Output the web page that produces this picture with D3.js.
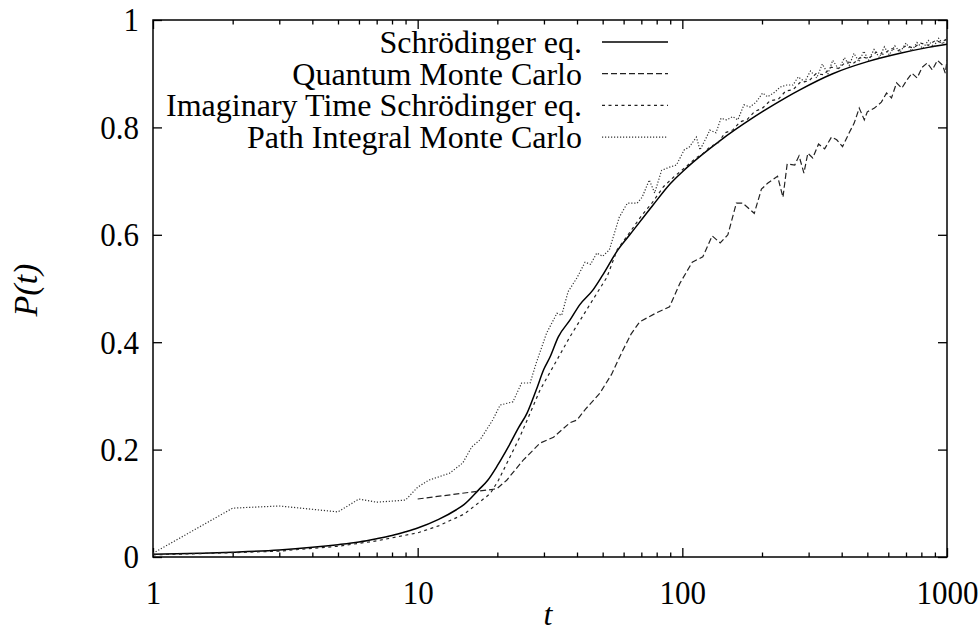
<!DOCTYPE html>
<html>
<head>
<meta charset="utf-8">
<script src="https://cdn.jsdelivr.net/npm/d3@7"></script>
<style>
  body { margin: 0; background: #fff; }
  svg text { font-family: "Liberation Serif", "Times New Roman", Times, "Nimbus Roman", "DejaVu Serif", serif; fill: #000; }
  .tall { transform-box: fill-box; transform-origin: center; transform: scaleY(1.1); }
  .axis path { display: none; }
  .axis line { stroke: #000; stroke-width: 1.3; }
</style>
</head>
<body>
<div class="content"></div>
<script>
(function() {

  // Data: [t, P(t)]
  var schrodinger = [
    [1, 0.005], [1.5, 0.007], [2, 0.009], [3, 0.013], [4, 0.018], [5, 0.023],
    [6, 0.028], [7, 0.034], [8, 0.040], [9, 0.047], [10, 0.054], [12, 0.07],
    [14, 0.088], [15, 0.098], [17, 0.125], [18.4, 0.143], [20, 0.17], [22, 0.205],
    [24, 0.24], [25.9, 0.268], [28, 0.31], [30, 0.35], [31.6, 0.372], [34, 0.41],
    [37.6, 0.441], [41, 0.47], [45.9, 0.497], [50, 0.525], [57.1, 0.572], [63.3, 0.6],
    [77.4, 0.655], [90, 0.695], [104, 0.725], [138.6, 0.775], [185, 0.818], [249, 0.857],
    [278, 0.87], [370, 0.9], [497, 0.922], [665, 0.938], [850, 0.949], [1000, 0.955]
  ];

  var quantumMC = [
    [10, 0.108], [19.9, 0.127], [21.7, 0.143], [25, 0.18], [29, 0.212], [32.6, 0.223],
    [37.6, 0.25], [40, 0.255], [43, 0.275], [48.8, 0.305], [54, 0.34], [59.6, 0.385],
    [64, 0.415], [69, 0.438], [80, 0.455], [89.5, 0.466], [98, 0.51], [109, 0.549],
    [119.5, 0.559], [129.6, 0.598], [139, 0.585], [148.6, 0.6], [160, 0.659], [169, 0.659],
    [187, 0.64], [199, 0.685], [210, 0.696], [229, 0.709], [240, 0.67], [249, 0.732],
    [266, 0.73], [276, 0.747], [288, 0.715], [298, 0.752], [311, 0.743], [327, 0.769],
    [345, 0.76], [366, 0.782], [383, 0.777], [403, 0.764], [427, 0.79], [446, 0.808],
    [466, 0.836], [487, 0.814], [500, 0.829], [532, 0.836], [565, 0.847], [591, 0.864],
    [617, 0.855], [645, 0.883], [675, 0.873], [705, 0.888], [737, 0.901], [771, 0.892],
    [806, 0.912], [842, 0.92], [880, 0.907], [920, 0.925], [962, 0.916], [985, 0.901],
    [1000, 0.925]
  ];

  var imaginaryTime = [
    [1, 0.004], [2, 0.008], [3, 0.011], [5, 0.02], [7, 0.03], [10, 0.045], [12, 0.058],
    [15, 0.08], [18.8, 0.118], [20.2, 0.143], [24.3, 0.223], [29, 0.311], [33.6, 0.367],
    [37.6, 0.41], [45.9, 0.479], [51.9, 0.521], [56.7, 0.572], [63, 0.603], [70, 0.635],
    [77, 0.66], [85, 0.69], [93, 0.708], [104, 0.728], [112, 0.742], [120, 0.752],
    [128, 0.765], [136, 0.77], [145, 0.79], [155, 0.795], [165, 0.81], [176, 0.815],
    [188, 0.83], [200, 0.835], [215, 0.85], [230, 0.852], [246, 0.868], [262, 0.87],
    [280, 0.885], [300, 0.886], [320, 0.9], [342, 0.898], [365, 0.912], [390, 0.91],
    [415, 0.922], [445, 0.92], [475, 0.932], [505, 0.928], [540, 0.94], [575, 0.936],
    [615, 0.947], [655, 0.943], [700, 0.952], [745, 0.948], [795, 0.957], [850, 0.953],
    [905, 0.962], [950, 0.958], [1000, 0.965]
  ];

  var pathIntegralMC = [
    [1, 0.007], [2, 0.091], [3, 0.095], [5, 0.084], [6, 0.108], [7, 0.102], [9, 0.106],
    [10, 0.13], [11, 0.143], [13.2, 0.156], [14.8, 0.175], [16, 0.205], [17.2, 0.218],
    [19.2, 0.255], [20.5, 0.283], [22.9, 0.289], [24.7, 0.324], [26.6, 0.324], [28, 0.36],
    [30.7, 0.417], [33.6, 0.454], [35, 0.45], [37, 0.494], [40, 0.52], [42.9, 0.549],
    [45, 0.545], [47.5, 0.566], [50, 0.56], [53, 0.572], [57.8, 0.633], [62, 0.659],
    [67.5, 0.659], [70.5, 0.67], [75, 0.702], [78.6, 0.678], [83.5, 0.72], [89.5, 0.726],
    [95, 0.73], [101.6, 0.758], [106.5, 0.764], [113, 0.782], [116.6, 0.758], [123.5, 0.782],
    [127, 0.795], [134, 0.79], [140, 0.817], [147, 0.814], [155, 0.82], [162, 0.814],
    [171, 0.842], [180, 0.838], [190, 0.847], [201, 0.864], [210, 0.857], [224, 0.866],
    [234, 0.875], [248, 0.879], [262, 0.879], [274, 0.894], [290, 0.885], [305, 0.905],
    [322, 0.892], [338, 0.918], [355, 0.9], [370, 0.925], [390, 0.908], [410, 0.93],
    [427, 0.915], [445, 0.938], [465, 0.922], [485, 0.942], [505, 0.925], [530, 0.945],
    [555, 0.93], [580, 0.95], [605, 0.935], [635, 0.952], [665, 0.94], [700, 0.957],
    [735, 0.942], [770, 0.958], [810, 0.947], [850, 0.962], [890, 0.95], [930, 0.966],
    [965, 0.955], [1000, 0.968]
  ];

  var seriesNames = ['Schrödinger eq.', 'Quantum Monte Carlo',
    'Imaginary Time Schrödinger eq.', 'Path Integral Monte Carlo'];
  var xTickLabels = [1, 10, 100, 1000];
  var yTickLabels = [0, 0.2, 0.4, 0.6, 0.8, 1];

  // Design Variables
  var margin = {top: 20, right: 33, bottom: 77, left: 153};
  var width = 980 - margin.left - margin.right;
  var height = 634 - margin.top - margin.bottom;
  var serif = '"Liberation Serif", "Times New Roman", Times, "Nimbus Roman", "DejaVu Serif", serif';

  var styles = [
    {dash: null, width: 1.5, color: '#000'},
    {dash: '6,3', width: 1.2, color: '#222'},
    {dash: '3,3.5', width: 1.2, color: '#222'},
    {dash: '1.2,1.8', width: 1.2, color: '#333'}
  ];

  // Scales
  var x = d3.scaleLog().domain([1, 1000]).range([0, width]);
  var y = d3.scaleLinear().domain([0, 1]).range([height, 0]);

  var minorTicks = [];
  [1, 10, 100].forEach(function(d) {
    for (var k = 2; k <= 9; k++) minorTicks.push(d * k);
  });

  var svg = d3.select('.content').append('svg')
      .attr('width', 980)
      .attr('height', 634)
      .attr('font-family', serif);

  var chart = svg.append('g')
      .attr('transform', 'translate(' + margin.left + ',' + margin.top + ')');

  chart.append('clipPath').attr('id', 'plot-clip')
    .append('rect').attr('width', width).attr('height', height);

  // Axes: ticks point inward, on all four sides
  chart.append('g').attr('class', 'axis')
      .attr('transform', 'translate(0,' + height + ')')
      .call(d3.axisBottom(x).tickValues(xTickLabels).tickSize(-9).tickPadding(24)
        .tickFormat(d3.format('d')))
      .attr('font-family', serif)
      .selectAll('text').attr('class', 'tall')
      .style('font-size', '31px').style('font-family', serif);

  chart.append('g').attr('class', 'axis')
      .attr('transform', 'translate(0,' + height + ')')
      .call(d3.axisBottom(x).tickValues(minorTicks).tickSize(-4.5).tickFormat(''));

  chart.append('g').attr('class', 'axis')
      .call(d3.axisTop(x).tickValues(xTickLabels).tickSize(-9).tickFormat(''));

  chart.append('g').attr('class', 'axis')
      .call(d3.axisTop(x).tickValues(minorTicks).tickSize(-4.5).tickFormat(''));

  chart.append('g').attr('class', 'axis')
      .call(d3.axisLeft(y).tickValues(yTickLabels).tickSize(-9).tickPadding(14)
        .tickFormat(function(d) { return d === 0 || d === 1 ? d : d3.format('.1f')(d); }))
      .attr('font-family', serif)
      .selectAll('text').attr('class', 'tall')
      .style('font-size', '31px').style('font-family', serif);

  chart.append('g').attr('class', 'axis')
      .attr('transform', 'translate(' + width + ',0)')
      .call(d3.axisRight(y).tickValues(yTickLabels).tickSize(-9).tickFormat(''));

  // Frame
  chart.append('rect')
      .attr('width', width)
      .attr('height', height)
      .attr('fill', 'none')
      .attr('stroke', '#000')
      .attr('stroke-width', 1.5);

  // Lines
  var line = d3.line()
      .x(function(d) { return x(d[0]); })
      .y(function(d) { return y(d[1]); });

  var smoothLine = d3.line()
      .curve(d3.curveMonotoneX)
      .x(function(d) { return x(d[0]); })
      .y(function(d) { return y(d[1]); });

  var allSeries = [schrodinger, quantumMC, imaginaryTime, pathIntegralMC];

  chart.append('g').attr('clip-path', 'url(#plot-clip)')
    .selectAll('path')
      .data(allSeries)
      .enter()
      .append('path')
      .attr('fill', 'none')
      .attr('d', function(d, i) { return i === 0 ? smoothLine(d) : line(d); })
      .attr('stroke', function(d, i) { return styles[i].color; })
      .attr('stroke-width', function(d, i) { return styles[i].width; })
      .attr('stroke-dasharray', function(d, i) { return styles[i].dash; });

  // Legend
  var legend = chart.append('g')
      .attr('transform', 'translate(' + (582 - margin.left) + ',' + (42 - margin.top) + ')');

  var item = legend.selectAll('.legend-item')
      .data(seriesNames)
      .enter()
      .append('g')
      .attr('class', 'legend-item')
      .attr('transform', function(d, i) { return 'translate(0,' + (i * 31.7) + ')'; });

  item.append('text')
      .attr('text-anchor', 'end')
      .attr('y', 11)
      .style('font-size', '32px')
      .style('font-family', serif)
      .text(function(d) { return d; });

  item.append('line')
      .attr('x1', 20)
      .attr('x2', 86)
      .attr('stroke', function(d, i) { return styles[i].color; })
      .attr('stroke-width', function(d, i) { return styles[i].width; })
      .attr('stroke-dasharray', function(d, i) { return styles[i].dash; });

  // Axis titles
  svg.append('text')
      .attr('x', 548)
      .attr('y', 625)
      .attr('text-anchor', 'middle')
      .style('font-size', '32px')
      .style('font-style', 'italic')
      .style('font-family', serif)
      .text('t');

  svg.append('text')
      .attr('transform', 'translate(37,290) rotate(-90)')
      .attr('text-anchor', 'middle')
      .style('font-size', '34px')
      .style('font-style', 'italic')
      .style('font-family', serif)
      .text('P(t)');

})()
</script>
</body>
</html>
